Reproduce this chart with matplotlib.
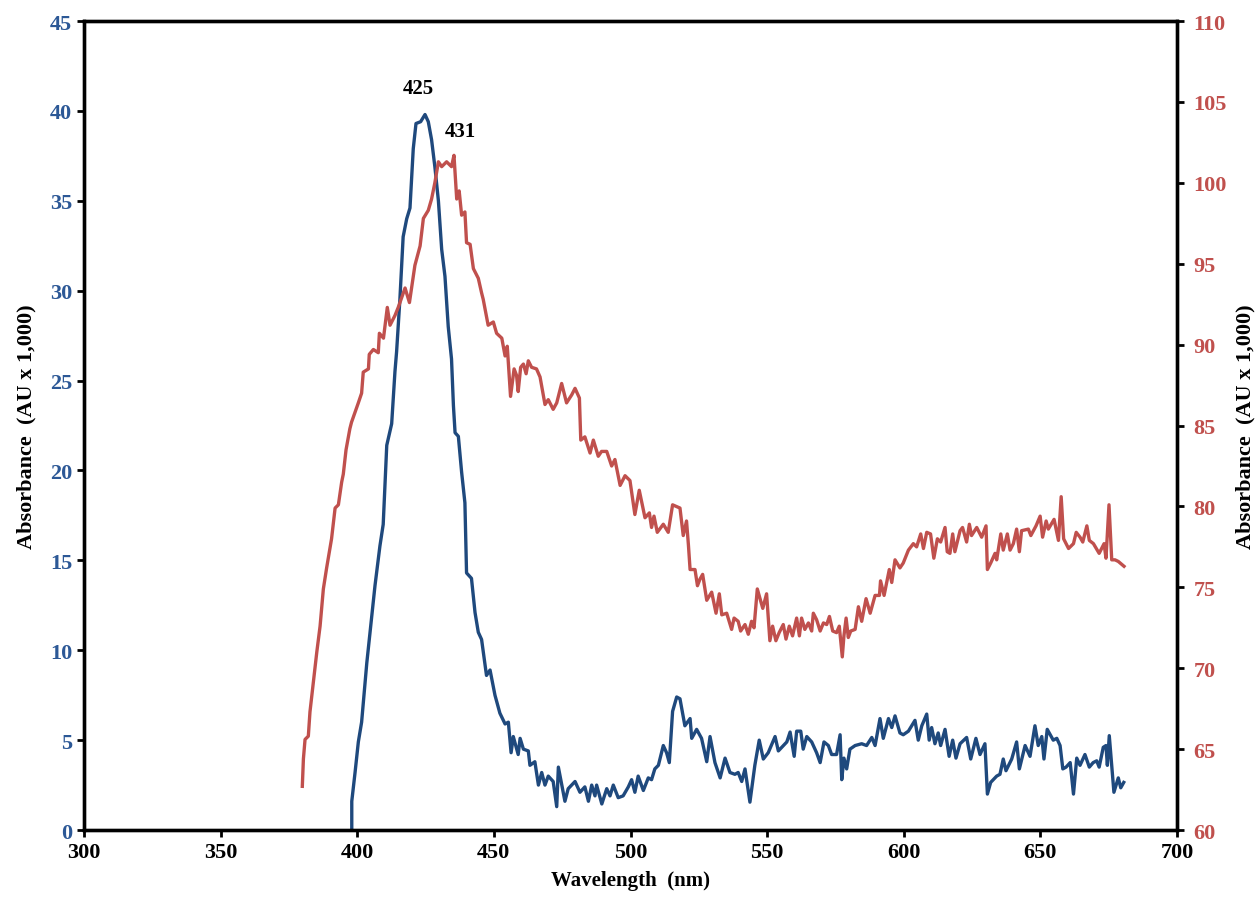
import matplotlib.pyplot as plt

# absorbance spectra, left axis (blue) and right axis (red)
blue_nm = [398.0, 398.0, 399.2, 400.4, 401.6, 403.5, 405.3, 406.5, 408.3, 409.5, 410.8, 412.6, 413.8, 414.4,
           415.6, 416.8, 418.1, 419.3, 420.5, 421.5, 423.2, 424.8, 426.0, 427.2, 428.4, 429.7, 430.9, 432.1,
           433.3, 434.5, 435.2, 435.8, 437.0, 438.2, 439.4, 440.0, 441.8, 443.1, 444.3, 445.5, 447.3, 448.6,
           450.4, 452.2, 454.1, 455.3, 456.3, 457.1, 458.9, 459.6, 460.8, 462.6, 463.2, 465.0, 466.3, 467.5,
           468.7, 469.9, 471.7, 473.0, 473.6, 476.0, 477.2, 479.7, 481.5, 483.3, 484.6, 485.8, 487.0, 487.6,
           489.5, 491.3, 492.5, 493.7, 495.5, 497.3, 499.2, 500.4, 501.6, 502.8, 504.7, 506.5, 507.7, 508.9,
           510.2, 512.0, 513.2, 514.2, 515.4, 516.9, 518.1, 519.9, 521.8, 522.4, 524.2, 526.0, 527.9, 529.1,
           530.9, 532.8, 534.6, 536.4, 538.2, 539.4, 540.7, 541.9, 543.7, 545.5, 547.1, 548.6, 550.4, 552.9,
           554.1, 557.2, 558.4, 559.9, 560.8, 562.3, 563.2, 564.5, 566.3, 568.1, 569.4, 570.8, 572.4, 573.6,
           575.4, 576.7, 577.3, 578.1, 579.1, 580.3, 582.2, 584.6, 586.4, 588.3, 589.5, 591.3, 592.5, 594.4,
           595.6, 596.8, 598.6, 599.8, 601.7, 604.1, 605.3, 606.6, 608.4, 609.3, 610.2, 611.4, 612.6, 613.5,
           615.1, 616.6, 617.9, 619.1, 620.6, 623.0, 624.5, 626.4, 627.9, 629.7, 630.6, 631.8, 634.0, 635.2,
           636.4, 637.4, 639.5, 641.3, 642.3, 644.4, 646.2, 648.0, 649.2, 650.5, 651.3, 652.5, 654.7, 656.0,
           657.2, 658.2, 659.4, 660.9, 662.1, 663.3, 664.5, 666.3, 667.9, 669.3, 670.6, 671.5, 673.0, 674.0,
           674.5, 675.2, 676.9, 678.5, 679.4, 680.5]
blue_abs = [0.0, 1.6, 3.2, 4.9, 6.0, 9.3, 11.9, 13.6, 15.8, 17.0, 21.4, 22.6, 25.5, 26.6,
            29.5, 33.0, 34.0, 34.6, 37.9, 39.3, 39.4, 39.8, 39.4, 38.4, 36.9, 35.0, 32.3, 30.8,
            28.0, 26.2, 23.6, 22.1, 21.9, 19.9, 18.2, 14.3, 14.0, 12.1, 11.0, 10.6, 8.6, 8.9,
            7.5, 6.5, 5.9, 6.0, 4.3, 5.2, 4.2, 5.1, 4.5, 4.4, 3.6, 3.8, 2.5, 3.2,
            2.5, 3.0, 2.7, 1.3, 3.5, 1.6, 2.3, 2.7, 2.1, 2.4, 1.6, 2.5, 1.9, 2.5,
            1.45, 2.3, 1.9, 2.5, 1.8, 1.9, 2.4, 2.8, 2.1, 3.0, 2.2, 2.9, 2.8, 3.4,
            3.6, 4.7, 4.3, 3.75, 6.6, 7.4, 7.3, 5.8, 6.2, 5.1, 5.6, 5.1, 3.8, 5.2,
            3.75, 2.9, 4.0, 3.2, 3.1, 3.2, 2.7, 3.4, 1.55, 3.6, 5.0, 3.95, 4.3, 5.2,
            4.4, 4.9, 5.45, 4.1, 5.5, 5.5, 4.5, 5.2, 4.9, 4.3, 3.75, 4.9, 4.7, 4.2,
            4.2, 5.3, 2.8, 4.0, 3.4, 4.5, 4.7, 4.8, 4.7, 5.15, 4.7, 6.2, 5.1, 6.2,
            5.7, 6.35, 5.4, 5.3, 5.5, 6.1, 5.0, 5.8, 6.45, 5.0, 5.7, 4.8, 5.4, 4.7,
            5.6, 4.1, 5.0, 4.0, 4.8, 5.15, 3.95, 5.1, 4.2, 4.8, 2.0, 2.65, 3.0, 3.1,
            3.95, 3.3, 3.95, 4.9, 3.4, 4.7, 4.1, 5.8, 4.7, 5.2, 3.95, 5.6, 5.0, 5.1,
            4.7, 3.4, 3.5, 3.75, 2.0, 4.0, 3.6, 4.2, 3.5, 3.75, 3.85, 3.5, 4.6, 4.7,
            3.6, 5.25, 2.1, 2.9, 2.35, 2.65]

red_nm = [379.9, 380.3, 380.9, 382.1, 382.7, 383.9, 385.2, 386.4, 387.6, 388.8, 390.6, 391.9, 393.1, 394.3,
          394.9, 395.9, 397.3, 397.9, 400.4, 401.6, 402.2, 404.1, 404.4, 405.9, 407.7, 408.1, 409.6, 411.0,
          412.0, 413.8, 415.0, 417.5, 419.1, 421.1, 423.0, 424.2, 426.0, 427.2, 428.4, 429.7, 430.9, 432.7,
          434.5, 435.4, 436.4, 437.3, 438.2, 439.4, 440.0, 441.3, 442.5, 444.3, 445.5, 446.1, 447.9, 449.8,
          451.0, 452.9, 454.1, 454.9, 456.1, 457.4, 458.3, 458.9, 459.8, 460.8, 461.8, 462.6, 463.8, 465.6,
          466.9, 468.7, 469.9, 471.7, 473.0, 474.8, 476.6, 478.5, 479.7, 481.3, 481.8, 483.3, 485.2, 486.4,
          488.2, 489.4, 491.3, 493.1, 494.3, 496.2, 498.0, 499.8, 501.6, 503.2, 505.3, 506.9, 507.7, 508.6,
          509.8, 512.0, 513.8, 515.4, 518.1, 519.3, 520.5, 521.2, 521.8, 523.6, 524.5, 525.4, 526.4, 527.9,
          529.7, 531.3, 532.5, 533.4, 535.2, 537.0, 537.9, 539.4, 540.3, 541.9, 543.1, 544.3, 545.2, 546.4,
          548.4, 549.8, 551.0, 552.0, 553.2, 554.4, 555.9, 556.9, 558.1, 559.3, 560.8, 561.8, 562.6, 563.8,
          565.1, 566.3, 566.9, 568.1, 569.4, 570.6, 571.8, 572.8, 574.0, 575.4, 576.4, 577.5, 578.1, 578.9,
          579.7, 580.6, 582.2, 583.4, 584.6, 586.2, 587.7, 589.5, 591.1, 591.5, 592.8, 594.7, 595.6, 596.8,
          598.6, 599.8, 601.7, 603.5, 604.7, 606.2, 607.2, 608.4, 609.8, 611.0, 612.3, 613.5, 615.1, 615.9,
          616.9, 617.9, 618.7, 620.6, 621.5, 623.0, 624.0, 624.8, 626.7, 628.5, 630.1, 630.6, 631.8, 633.4,
          634.0, 635.5, 636.4, 637.9, 638.9, 640.1, 641.3, 642.3, 643.1, 645.6, 646.5, 648.4, 649.9, 650.8,
          652.1, 652.9, 655.0, 656.6, 657.6, 658.5, 660.3, 662.1, 663.1, 664.5, 665.5, 667.0, 667.9, 669.4,
          671.5, 673.3, 674.0, 675.1, 676.1, 677.3, 678.5, 680.6]
red_abs = [62.7, 64.4, 65.6, 65.8, 67.3, 69.1, 71.0, 72.6, 74.9, 76.2, 78.0, 79.9, 80.1, 81.5,
           82.0, 83.5, 84.8, 85.2, 86.4, 87.0, 88.3, 88.5, 89.4, 89.7, 89.5, 90.7, 90.4, 92.3,
           91.2, 91.8, 92.3, 93.5, 92.6, 94.9, 96.1, 97.8, 98.3, 99.0, 100.0, 101.3, 101.0, 101.3,
           101.0, 101.7, 99.0, 99.5, 98.0, 98.2, 96.3, 96.2, 94.7, 94.1, 93.2, 92.8, 91.2, 91.4,
           90.7, 90.4, 89.3, 89.9, 86.8, 88.5, 88.1, 87.1, 88.6, 88.8, 88.2, 89.0, 88.6, 88.5,
           88.0, 86.3, 86.6, 86.0, 86.4, 87.6, 86.4, 86.9, 87.3, 86.7, 84.1, 84.3, 83.3, 84.1,
           83.1, 83.4, 83.4, 82.5, 82.9, 81.3, 81.9, 81.6, 79.5, 81.0, 79.3, 79.6, 78.7, 79.4,
           78.4, 78.9, 78.4, 80.1, 79.9, 78.2, 79.1, 77.6, 76.1, 76.1, 75.1, 75.5, 75.8, 74.2,
           74.7, 73.4, 74.6, 73.3, 73.4, 72.4, 73.1, 72.9, 72.3, 72.7, 72.1, 72.9, 72.5, 74.9,
           73.7, 74.6, 71.7, 72.6, 71.7, 72.2, 72.7, 71.8, 72.6, 72.0, 73.1, 72.0, 73.1, 72.4,
           72.8, 72.3, 73.4, 73.0, 72.3, 72.8, 72.7, 73.2, 72.3, 72.2, 72.6, 70.7, 72.0, 73.1,
           71.9, 72.3, 72.4, 73.8, 72.9, 74.3, 73.4, 74.5, 74.5, 75.4, 74.5, 76.1, 75.3, 76.7,
           76.2, 76.5, 77.3, 77.7, 77.5, 78.3, 77.4, 78.4, 78.3, 76.8, 78.0, 77.8, 78.7, 77.2,
           77.1, 78.3, 77.2, 78.5, 78.7, 77.8, 78.9, 78.2, 78.7, 78.1, 78.8, 76.1, 76.5, 77.1,
           76.7, 78.3, 77.3, 78.3, 77.3, 77.7, 78.6, 77.2, 78.5, 78.6, 78.2, 78.8, 79.4, 78.1,
           79.1, 78.6, 79.2, 77.9, 80.6, 78.0, 77.4, 77.7, 78.4, 78.1, 77.8, 78.8, 77.9, 77.7,
           77.1, 77.7, 76.8, 80.1, 76.7, 76.7, 76.6, 76.3]

x_ticks = [300, 350, 400, 450, 500, 550, 600, 650, 700]
left_ticks = [0, 5, 10, 15, 20, 25, 30, 35, 40, 45]
right_ticks = [60, 65, 70, 75, 80, 85, 90, 95, 100, 105, 110]

BLUE = '#1F497D'
BLUE_TXT = '#2C5896'
RED = '#C0504D'

plt.rcParams['font.family'] = ['Liberation Serif', 'DejaVu Serif']
plt.rcParams['font.weight'] = 'bold'

fig = plt.figure(figsize=(12.59, 9.03), dpi=100)
ax = fig.add_axes([0.0667, 0.0797, 0.8682, 0.8959])
ax.plot(blue_nm, blue_abs, color=BLUE, lw=2.4)
ax.set_xlim(300, 700)
ax.set_ylim(0, 45)
ax.set_xticks(x_ticks)
ax.set_yticks(left_ticks)
ax.tick_params(axis='both', direction='out', length=5, width=2, labelsize=16)
ax.tick_params(axis='y', labelcolor=BLUE_TXT)
for lab in ax.get_xticklabels() + ax.get_yticklabels():
    lab.set_fontweight('bold')
ax.set_xlabel('Wavelength  (nm)', fontsize=15, fontweight='bold', labelpad=6)
ax.set_ylabel('Absorbance  (AU x 1,000)', fontsize=16, fontweight='bold', labelpad=10)
for s in ax.spines.values():
    s.set_linewidth(2.4)

ax2 = ax.twinx()
ax2.plot(red_nm, red_abs, color=RED, lw=2.4)
ax2.set_ylim(60, 110)
ax2.set_yticks(right_ticks)
ax2.tick_params(axis='y', direction='out', length=5, width=2, labelsize=16, labelcolor=RED, pad=7)
for lab in ax2.get_yticklabels():
    lab.set_fontweight('bold')
ax2.set_ylabel('Absorbance  (AU x 1,000)', fontsize=16, fontweight='bold', labelpad=6)
for s in ax2.spines.values():
    s.set_linewidth(2.4)

# peak labels
ax.text(422.2, 41.3, '425', fontsize=15, fontweight='bold', ha='center', va='center')
ax.text(437.6, 38.9, '431', fontsize=15, fontweight='bold', ha='center', va='center')

fig.savefig('out.png', dpi=100)
